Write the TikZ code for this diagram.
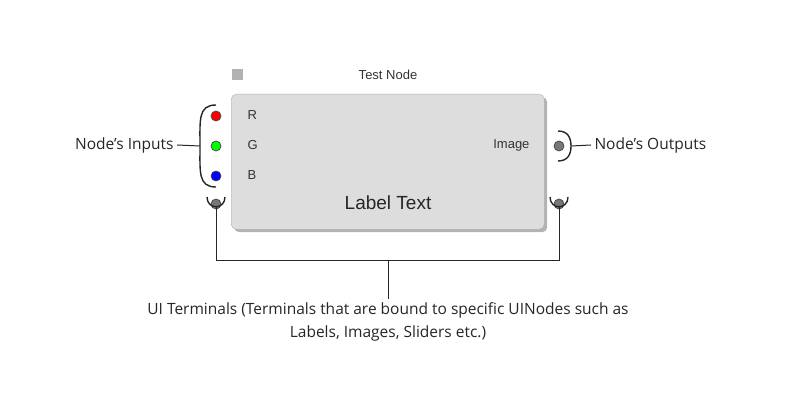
\documentclass[tikz,border=0pt]{standalone}
\usepackage{fontspec}
\setmainfont{Open Sans}
\newfontfamily\arialf{Liberation Sans}
\usetikzlibrary{shadows}
\definecolor{boxfill}{HTML}{DDDDDD}
\definecolor{dotgray}{HTML}{777777}
\tikzset{
 term/.style={circle,draw=black!70,line width=0.8pt,inner sep=0pt,minimum size=10pt},
 brk/.style={line width=1.4pt,black!85},
 lnk/.style={line width=1pt,black!85},
 ann/.style={font=\fontsize{15.5}{23}\selectfont,text=black!85},
 nlab/.style={font=\arialf\fontsize{13}{15}\selectfont,text=black!80}
}
\begin{document}
\begin{tikzpicture}[x=1pt,y=-1pt]
\useasboundingbox (0,0) rectangle (800,406);
\node[draw=black!30,fill=boxfill,rounded corners=5pt,minimum width=313pt,minimum height=135pt,anchor=north west,
  drop shadow={shadow xshift=3pt,shadow yshift=-3pt,opacity=0.6}] (box) at (231,94) {};
\node[fill=black!30,minimum size=11pt,inner sep=0pt] (sq) at (237,75) {};
\node[nlab] (title) at (388,75) {Test Node};
\node[term,fill=red] (r) at (216,116) {};
\node[term,fill=green] (g) at (216,146) {};
\node[term,fill=blue] (b) at (216,176) {};
\node[term,fill=dotgray] (ui1) at (216,204) {};
\node[term,fill=dotgray] (ui2) at (559,204) {};
\node[term,fill=dotgray] (out) at (559,146) {};
\node[nlab,anchor=west] (lr) at (244,115) {R};
\node[nlab,anchor=west] (lg) at (244,145) {G};
\node[nlab,anchor=west] (lb) at (244,175) {B};
\node[nlab,anchor=east] (limg) at (533,145) {Image};
\node[font=\arialf\fontsize{19}{22}\selectfont,text=black!85] (lt) at (388,203) {Label Text};
% input bracket
\draw[brk] (216,105) .. controls (198,105) and (200,120) .. (200,146) .. controls (200,172) and (198,187) .. (216,187);
\coordinate (inb) at (200,146);
\node[ann,anchor=east] (inl) at (177,145) {Node's Inputs};
\draw[lnk] (inl.east) -- (inb);
% output bracket
\draw[brk] (558,131) .. controls (568,131) and (571,138) .. (571,146) .. controls (571,154) and (568,161) .. (558,161);
\coordinate (outb) at (571,146);
\node[ann,anchor=west] (outl) at (591,145) {Node's Outputs};
\draw[lnk] (outb) -- (outl.west);
% UI brackets
\draw[brk] (207,197) .. controls (207,210) and (225,210) .. (225,197);
\draw[brk] (550,197) .. controls (550,210) and (568,210) .. (568,197);
\coordinate (u1) at (216,207);
\coordinate (u2) at (559,207);
\coordinate (c1) at (216,260);
\coordinate (c2) at (559,260);
\coordinate (cm) at (388,260);
\node[ann,align=center,anchor=north] (uil) at (388,299) {UI Terminals (Terminals that are bound to specific UINodes such as\\Labels, Images, Sliders etc.)};
\draw[lnk] (u1) -- (c1) -- (c2) -- (u2);
\draw[lnk] (cm) -- (uil.north);
\end{tikzpicture}
\end{document}
